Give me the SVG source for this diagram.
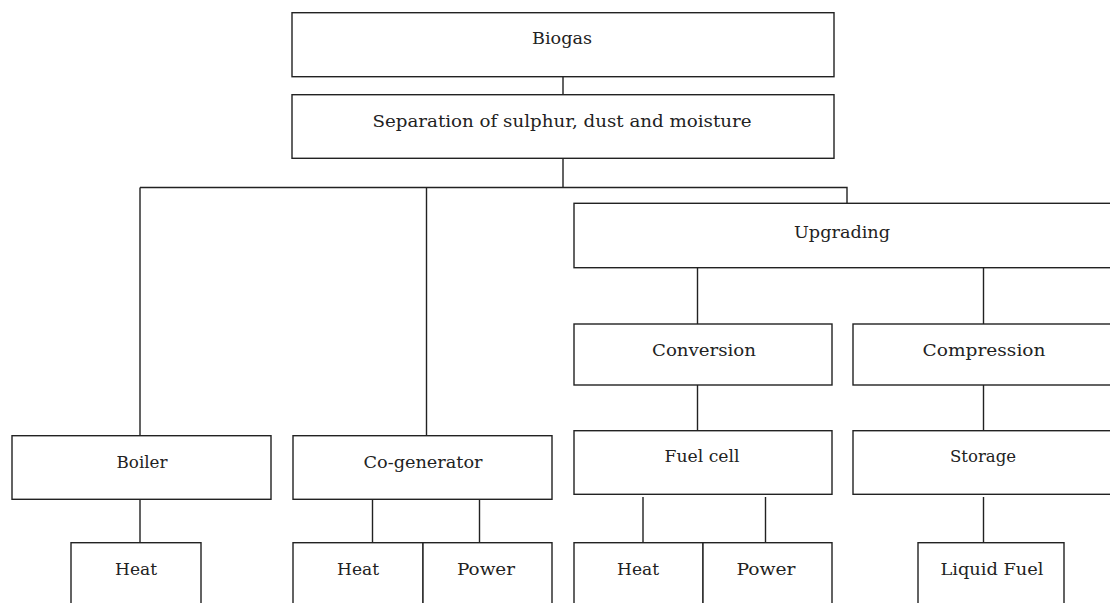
<svg xmlns="http://www.w3.org/2000/svg" width="1110" height="603" viewBox="0 0 1110 603">
<style>
.box{fill:#fff;stroke:#222;stroke-width:1.4}
.lbl{font-family:"DejaVu Serif","Liberation Serif",serif;font-size:16px;fill:#222;text-anchor:middle}
.con{stroke:#222;stroke-width:1.4;fill:none}
</style>
<rect width="1110" height="603" fill="#fff"/>
<g id="connectors">
<path class="con" d="M563 76.7V94.7M563 158.3V187.5M140 187.5H847V203.3M140 187.5V435.7M426.5 187.5V435.7"/>
<path class="con" d="M697.5 267.7V324M983.5 267.7V324M697.5 385V430.7M983.5 385V430.7"/>
<path class="con" d="M140 499.3V542.7M372.5 499.3V542.7M479.5 499.3V542.7M643 497V542.7M765.5 497V542.7M983.5 497V542.7"/>
</g>
<g id="biogas"><rect class="box" x="292" y="12.7" width="542" height="64"/><text class="lbl" x="562" y="44" textLength="60" lengthAdjust="spacingAndGlyphs">Biogas</text></g>
<g id="separation"><rect class="box" x="292" y="94.7" width="542" height="63.6"/><text class="lbl" x="562" y="127" textLength="379" lengthAdjust="spacingAndGlyphs">Separation of sulphur, dust and moisture</text></g>
<g id="upgrading"><rect class="box" x="574" y="203.3" width="540" height="64.4"/><text class="lbl" x="842" y="238" textLength="96" lengthAdjust="spacingAndGlyphs">Upgrading</text></g>
<g id="conversion"><rect class="box" x="574" y="324" width="258" height="61"/><text class="lbl" x="704" y="356" textLength="104" lengthAdjust="spacingAndGlyphs">Conversion</text></g>
<g id="compression"><rect class="box" x="853" y="324" width="262" height="61"/><text class="lbl" x="984" y="356" textLength="123" lengthAdjust="spacingAndGlyphs">Compression</text></g>
<g id="fuelcell"><rect class="box" x="574" y="430.7" width="258" height="63.6"/><text class="lbl" x="702" y="462" textLength="75" lengthAdjust="spacingAndGlyphs">Fuel cell</text></g>
<g id="storage"><rect class="box" x="853" y="430.7" width="262" height="63.6"/><text class="lbl" x="983" y="462" textLength="66" lengthAdjust="spacingAndGlyphs">Storage</text></g>
<g id="boiler"><rect class="box" x="12" y="435.7" width="259" height="63.6"/><text class="lbl" x="142" y="468" textLength="51" lengthAdjust="spacingAndGlyphs">Boiler</text></g>
<g id="cogenerator"><rect class="box" x="293" y="435.7" width="259" height="63.6"/><text class="lbl" x="423" y="468" textLength="119" lengthAdjust="spacingAndGlyphs">Co-generator</text></g>
<g id="heat1"><rect class="box" x="71" y="542.7" width="130" height="70"/><text class="lbl" x="136" y="575" textLength="42" lengthAdjust="spacingAndGlyphs">Heat</text></g>
<g id="heat2"><rect class="box" x="293" y="542.7" width="130" height="70"/><text class="lbl" x="358" y="575" textLength="42" lengthAdjust="spacingAndGlyphs">Heat</text></g>
<g id="power2"><rect class="box" x="423" y="542.7" width="129" height="70"/><text class="lbl" x="486" y="575" textLength="58" lengthAdjust="spacingAndGlyphs">Power</text></g>
<g id="heat3"><rect class="box" x="574" y="542.7" width="129" height="70"/><text class="lbl" x="638" y="575" textLength="42" lengthAdjust="spacingAndGlyphs">Heat</text></g>
<g id="power3"><rect class="box" x="703" y="542.7" width="129" height="70"/><text class="lbl" x="766" y="575" textLength="59" lengthAdjust="spacingAndGlyphs">Power</text></g>
<g id="liquidfuel"><rect class="box" x="918" y="542.7" width="146" height="70"/><text class="lbl" x="992" y="575" textLength="103" lengthAdjust="spacingAndGlyphs">Liquid Fuel</text></g>
</svg>
